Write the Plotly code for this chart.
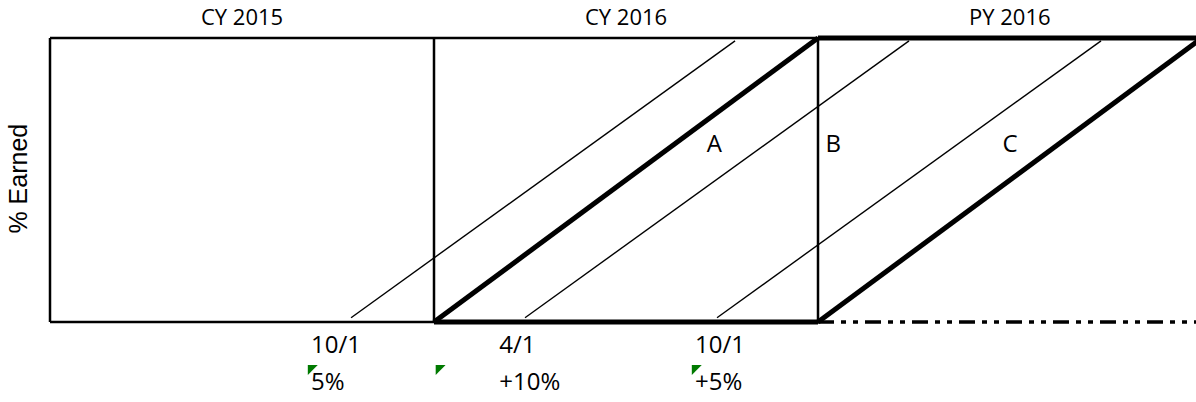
import plotly.graph_objects as go

# calendar / policy year blocks (x in years, y = % earned 0..1)
year_edges = [2015, 2016, 2017]
period_names = ["CY 2015", "CY 2016", "PY 2016"]
period_mid = [2015.5, 2016.5, 2017.5]

# thin lines: policies written through the year (earning over 1 year)
policy_starts = [2015.784, 2016.237, 2016.737]
policy_y = [0.015, 0.99]

# bottom labels
date_labels = ["10/1", "4/1", "10/1"]
date_x = [2015.68, 2016.17, 2016.68]
rate_labels = ["5%", "+10%", "+5%"]
rate_x = [2015.68, 2016.17, 2016.68]
note_x = [2015.68, 2016.013, 2016.68]

# region labels
region_labels = ["A", "B", "C"]
region_x = [2016.73, 2017.04, 2017.50]
region_y = 0.62

FONT = "Open Sans"
fig = go.Figure()


def seg(x, y, w, dash="solid"):
    fig.add_trace(go.Scatter(x=x, y=y, mode="lines", line=dict(color="black", width=w, dash=dash),
                             hoverinfo="skip", showlegend=False))


def txt(x, y, labels, size, pos="middle center"):
    fig.add_trace(go.Scatter(x=x, y=y, mode="text", text=labels, textposition=pos, cliponaxis=False,
                             textfont=dict(family=FONT, size=size, color="black"),
                             hoverinfo="skip", showlegend=False))


# calendar year boxes
y0, y1 = 0, 1
seg([year_edges[0], year_edges[2]], [y1, y1], 2.5)
seg([year_edges[0], year_edges[1]], [y0, y0], 2.5)
for xe in year_edges:
    seg([xe, xe], [y0, y1], 2.5)

# thin policy lines
for s in policy_starts:
    seg([s, s + 1], policy_y, 1.4)

# policy year 2016 parallelogram (thick)
seg([year_edges[1], year_edges[2]], [y0, y0], 5)
seg([year_edges[1], year_edges[2]], [y0, y1], 5)
seg([year_edges[2], year_edges[2] + 1], [y0, y1], 5)
seg([year_edges[2], year_edges[2] + 1], [y1, y1], 5)
seg([year_edges[2], year_edges[2] + 1], [y0, y0], 3.5, dash="16px,7px,5px,7px,5px,7px")

# period titles along the top
for xm, name in zip(period_mid, period_names):
    fig.add_annotation(x=xm, xref="x", y=1, yref="paper", yanchor="top", text=name, showarrow=False,
                       borderpad=0, font=dict(family=FONT, size=22, color="black"))

txt(date_x, [-0.088] * 3, date_labels, 24, "middle right")
txt(rate_x, [-0.218] * 3, rate_labels, 24, "middle right")
txt(region_x, [region_y] * 3, region_labels, 24)

# comment indicators
fig.add_trace(go.Scatter(x=note_x, y=[-0.163] * 3, mode="markers", cliponaxis=False,
                         marker=dict(symbol="triangle-nw", size=11, color="#007A00", line=dict(width=0)),
                         hoverinfo="skip", showlegend=False))

fig.add_annotation(x=18 / 1196, xref="paper", xanchor="center", y=0.505, yref="y", text="% Earned",
                   textangle=-90, showarrow=False,
                   font=dict(family="Liberation Sans", size=25, color="black"))

fig.update_layout(
    width=1196, height=402, margin=dict(l=0, r=0, t=0, b=0),
    plot_bgcolor="white", paper_bgcolor="white",
    xaxis=dict(range=[2015 - 50 / 384, 2015 + 1146 / 384], visible=False, fixedrange=True),
    yaxis=dict(range=[-80 / 284, 1 + 38 / 284], visible=False, fixedrange=True),
)
fig.write_html("out.html", config={"displayModeBar": False},
               post_script="document.body.style.margin='0';")
